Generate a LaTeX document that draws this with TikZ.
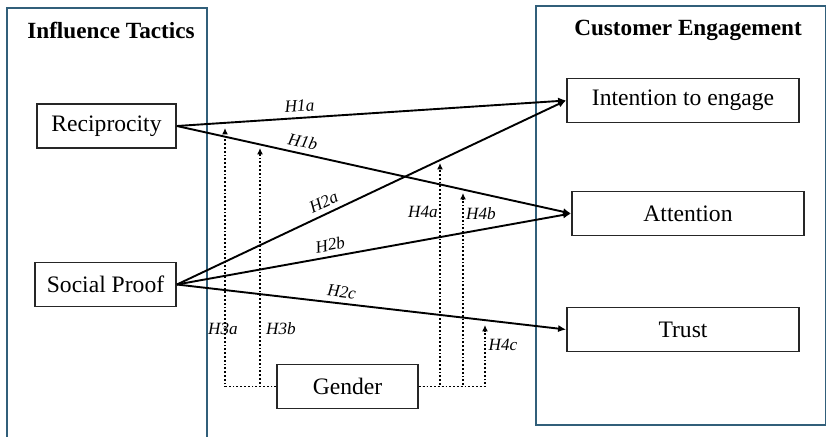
\documentclass[tikz,border=0pt]{standalone}
\usepackage{fontspec}
\setmainfont{Liberation Serif}
\usetikzlibrary{arrows.meta}
\definecolor{framecol}{RGB}{49,95,122}
\tikzset{
  varbox/.style={draw=black!85, line width=0.9pt, minimum height=22pt, inner sep=2pt,
    font=\fontsize{11.8}{14}\selectfont},
  frame/.style={draw=framecol, line width=0.8pt},
  heading/.style={font=\fontsize{11.6}{14}\selectfont\bfseries},
  hyp/.style={font=\fontsize{8.6}{10}\selectfont\itshape, inner sep=1pt},
  link/.style={line width=0.95pt, -{Latex[length=4pt,width=3.6pt]}},
  modline/.style={densely dotted, line width=0.9pt, -{Latex[length=3.2pt,width=3pt]}}
}
\begin{document}
\begin{tikzpicture}[x=0.5pt,y=-0.5pt]
\useasboundingbox (0,0) rectangle (826,436);
\path[frame] (7,8) rectangle (207,439);
\path[frame] (536,6) rectangle (826,425);
\node[heading] (lefttitle) at (111,30) {Influence Tactics};
\node[heading] (righttitle) at (688,30) {Customer Engagement};

\node[varbox, minimum width=69.5pt] (recip) at (106.5,126) {Reciprocity};
\node[varbox, minimum width=70.5pt] (social) at (105.5,284.5) {Social Proof};
\node[varbox, minimum width=70.5pt] (gender) at (347.5,386.5) {Gender};
\node[varbox, minimum width=116pt] (intent) at (683,100.5) {Intention to engage};
\node[varbox, minimum width=116pt] (attn) at (688,213.5) {Attention};
\node[varbox, minimum width=116pt] (trust) at (683,329.5) {Trust};

% direct effects
\draw[link] (recip.east) to node (h1a) [pos=0.317, sloped, above=1.5pt, hyp] {H1a} (intent.west);
\draw[link] (recip.east) to node (h1b) [pos=0.313, sloped, above=1.5pt, hyp] {H1b} (attn.west);
\draw[link] (social.east) to node (h2a) [pos=0.39, sloped, above=1.5pt, hyp] {H2a} (intent.west);
\draw[link] (social.east) to node (h2b) [pos=0.394, sloped, above=1.5pt, hyp] {H2b} (attn.west);
\draw[link] (social.east) to node (h2c) [pos=0.42, sloped, above=1.5pt, hyp] {H2c} (trust.west);

% moderation by gender
\coordinate (m3a) at (225,128);
\coordinate (m3b) at (260,148);
\coordinate (m4a) at (440,163);
\coordinate (m4b) at (463,193);
\coordinate (m4c) at (485,325);
\draw[modline] (gender.west) -| (m3a);
\draw[modline] (gender.west) -| (m3b);
\draw[modline] (gender.east) -| (m4a);
\draw[modline] (gender.east) -| (m4b);
\draw[modline] (gender.east) -| (m4c);

\node[hyp] (h3a) at (223,329) {H3a};
\node[hyp] (h3b) at (281,329) {H3b};
\node[hyp] (h4a) at (423,212) {H4a};
\node[hyp] (h4b) at (481,214) {H4b};
\node[hyp] (h4c) at (503,345) {H4c};
\end{tikzpicture}
\end{document}
